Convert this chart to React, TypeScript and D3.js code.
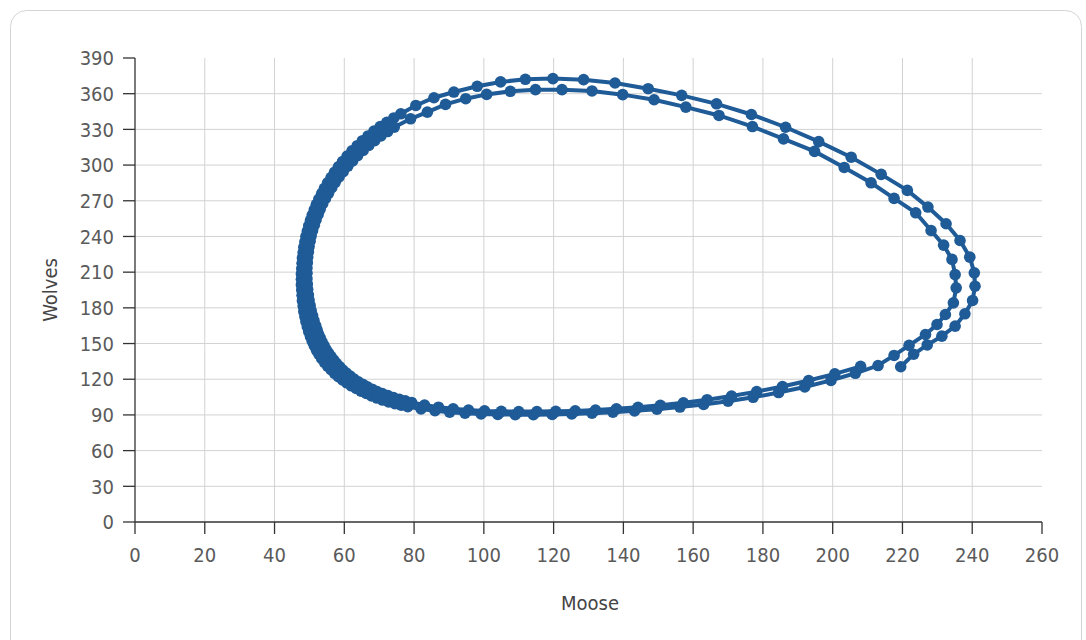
import { scaleLinear, line } from "d3";

// phase plot: moose vs wolves (outer loop first, then inner)
const moose = [
  219.5, 223.2, 227.1, 231.3, 235.1, 237.9, 240.1, 240.8, 240.6, 239.3, 236.5, 232.5, 227.3, 221.4, 213.9, 205.3,
  196, 186.5, 176.7, 166.7, 156.7, 147.1, 137.6, 128.6, 119.8, 111.9, 104.8, 98.1, 91.4, 85.7, 80.5, 76.2,
  74.2, 72.2, 70.3, 68.5, 66.8, 65.2, 63.7, 62.2, 60.8,
  59.5, 58.3, 57.2, 56.2, 55.2, 54.3, 53.5, 52.7, 52, 51.4, 50.8, 50.3, 49.8, 49.4, 49,
  48.7, 48.4, 48.2, 48, 47.9, 47.8, 47.7, 47.7, 47.7, 47.8, 47.9, 48, 48.2, 48.4, 48.7, 49, 49.4, 49.8, 50.3,
  50.8, 51.4, 52, 52.7, 53.5, 54.3, 55.2, 56.2, 57.2, 58.3, 59.5,
  60.7, 62, 63.4, 64.8, 66.3, 67.8, 69.4, 71, 72.7, 74.5, 76.3, 78.2, 82, 86, 90.2, 94.6, 99.2, 104,
  109, 114.2, 119.6, 125.2, 131, 137, 143.2, 149.6, 156.2, 163, 170, 177.2, 184.5, 192, 199.5, 206.5, 213,
  // second loop
  217.6, 221.9, 226.6, 229.9, 232.3, 234.6, 235.4, 235.1, 234.2, 231.8, 228.2, 223.8, 217.6, 211, 203.3,
  194.8, 185.9, 177, 167.4, 157.9, 148.8, 139.8, 131, 122.4, 114.8, 107.6, 100.8, 94.8, 89, 83.8, 79, 74.3,
  72.4, 70.5, 68.7, 67, 65.4, 63.8, 62.4,
  61, 59.7, 58.5, 57.4, 56.4, 55.5, 54.6, 53.8, 53.1, 52.5, 51.9, 51.4, 50.9, 50.5, 50.2,
  49.9, 49.7, 49.5, 49.4, 49.3, 49.3, 49.3, 49.4, 49.5, 49.7, 49.9, 50.2, 50.5, 50.9, 51.3, 51.8, 52.2, 52.6,
  53.1, 53.6, 54.2, 54.8, 55.5, 56.2, 57, 57.8, 58.7, 59.6,
  60.6, 61.7, 62.8, 64, 65.3, 66.6, 68, 69.4, 70.9, 72.5, 74.1, 75.8, 77.5, 79.3, 83, 87, 91.2, 95.6, 100.2,
  105, 110, 115.2, 120.6, 126.2, 132, 138, 144.2, 150.6, 157.2, 164, 171, 178.2, 185.6, 193.1, 200.6, 208,
];
const wolves = [
  130.5, 141, 148.8, 156.2, 164.6, 175, 186.2, 198.2, 209.4, 222.6, 236.6, 250.7, 264.7, 278.7, 292.2, 306.6,
  319.7, 331.8, 342.5, 351.5, 358.6, 364.2, 369, 371.8, 372.7, 372.1, 369.9, 366.2, 361.4, 356.6, 350.1, 343.1,
  339.6, 336, 332.3, 328.5, 324.5, 320.5, 316.3, 312, 307.5,
  303, 298.5, 294, 289.5, 285, 280.5, 276, 271.5, 267, 262.5, 258, 253.5, 249, 244.5, 240,
  235.5, 231, 226.5, 222, 217.5, 213, 208.5, 204, 199.5, 195, 190.5, 186, 181.5, 177, 172.7, 168.5, 164.2, 160, 156,
  152, 148.2, 144.5, 141, 137.5, 134.2, 131, 128, 125, 122.2, 119.5,
  117, 114.5, 112.2, 110, 108, 106, 104.2, 102.5, 101, 99.5, 98.2, 97, 95, 93.5, 92.3, 91.4, 90.8, 90.4,
  90.2, 90.2, 90.4, 90.8, 91.4, 92.3, 93.4, 94.8, 96.6, 98.8, 101.5, 104.8, 108.8, 113.5, 119, 125, 131.5,
  // second loop
  140, 148.5, 157.6, 166, 174.4, 184.2, 196.8, 208, 220.7, 232.7, 245, 259.9, 272, 285.1, 298,
  311.5, 322, 332.4, 341.7, 348.7, 354.9, 359.2, 362.3, 363.4, 363.4, 362, 359.4, 355.8, 351, 344.5, 338.9, 331.8,
  328.2, 324.5, 320.5, 316.5, 312.3, 308, 303.5,
  299, 294.5, 290, 285.5, 281, 276.5, 272, 267.5, 263, 258.5, 254, 249.5, 245, 240.5, 236,
  231.5, 227, 222.5, 218, 213.5, 209, 204.5, 200, 195.5, 191, 186.5, 182, 177.7, 173.5, 169.2, 165, 161.5, 158,
  154.7, 151.5, 148.2, 145, 142, 139, 136.1, 133.2, 130.4, 127.7,
  125.1, 122.6, 120.2, 117.9, 115.7, 113.6, 111.6, 109.7, 107.9, 106.2, 104.6, 103.1, 101.8, 100.5, 98.3, 96.5, 95.1, 94.1, 93.4,
  93, 92.8, 92.8, 93, 93.4, 94.1, 95.1, 96.4, 98.1, 100.2, 102.8, 105.9, 109.6, 113.9, 118.9, 124.5, 130.8,
];

const xTicks = [0, 20, 40, 60, 80, 100, 120, 140, 160, 180, 200, 220, 240, 260];
const yTicks = [0, 30, 60, 90, 120, 150, 180, 210, 240, 270, 300, 330, 360, 390];

const W = 1086;
const H = 640;
const BLUE = "#1f5b97";
const FONT = "'DejaVu Sans Condensed', 'DejaVu Sans', sans-serif";

export default function App() {
  const x = scaleLinear().domain([0, 260]).range([135, 1042]);
  const y = scaleLinear().domain([0, 390]).range([522, 58]);

  const pts = moose.map((m, i) => [m, wolves[i]] as [number, number]);
  const path = line<[number, number]>()
    .x((d) => x(d[0]))
    .y((d) => y(d[1]))(pts);

  return (
    <div style={{ position: "absolute", left: 0, top: 0 }}>
      <svg width={W} height={H} style={{ display: "block", fontFamily: FONT, fontStretch: "condensed" }}>
        <rect x={10.5} y={10.5} width={1071} height={720} rx={16} fill="#fff" stroke="#d4d4d4" />

        {/* grid */}
        {xTicks.filter((t) => t > 0 && t < 260).map((t) => (
          <line key={"gx" + t} x1={x(t)} x2={x(t)} y1={y(390)} y2={y(0)} stroke="#d2d2d2" />
        ))}
        {yTicks.filter((t) => t > 0 && t < 390).map((t) => (
          <line key={"gy" + t} x1={x(0)} x2={x(260)} y1={y(t)} y2={y(t)} stroke="#d2d2d2" />
        ))}

        {/* axes */}
        <line x1={x(0)} x2={x(0)} y1={y(390)} y2={y(0)} stroke="#333" strokeWidth={1.3} />
        <line x1={x(0)} x2={x(260)} y1={y(0)} y2={y(0)} stroke="#333" strokeWidth={1.3} />
        {yTicks.map((t) => (
          <g key={"yt" + t}>
            <line x1={x(0) - 12} x2={x(0)} y1={y(t)} y2={y(t)} stroke="#333" strokeWidth={1.3} />
            <text x={114} y={y(t)} dy="0.36em" textAnchor="end" fontSize={20} fill="#5a5a5a">
              {t}
            </text>
          </g>
        ))}
        {xTicks.map((t) => (
          <g key={"xt" + t}>
            <line x1={x(t)} x2={x(t)} y1={y(0)} y2={y(0) + 12} stroke="#333" strokeWidth={1.3} />
            <text x={x(t)} y={555} dy="0.36em" textAnchor="middle" fontSize={20} fill="#5a5a5a">
              {t}
            </text>
          </g>
        ))}
        <text x={590} y={603} dy="0.36em" textAnchor="middle" fontSize={20} fill="#444">
          Moose
        </text>
        <text transform="translate(50,290) rotate(-90)" dy="0.36em" textAnchor="middle" fontSize={20} fill="#444">
          Wolves
        </text>

        {/* series */}
        <path d={path ?? ""} fill="none" stroke={BLUE} strokeWidth={4} />
        {pts.map((d, i) => (
          <circle key={i} cx={x(d[0])} cy={y(d[1])} r={5.8} fill={BLUE} />
        ))}
      </svg>
    </div>
  );
}
